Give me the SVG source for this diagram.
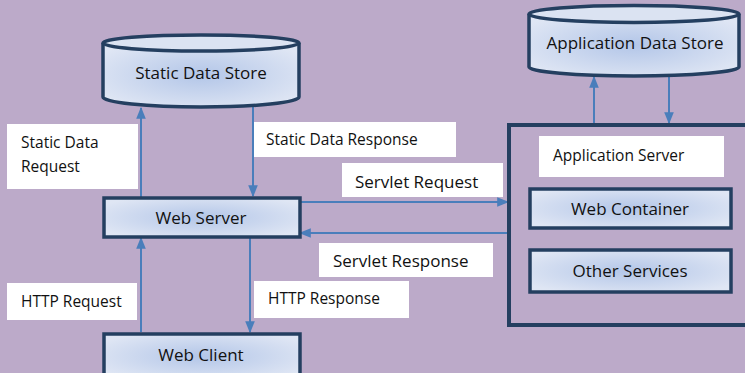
<svg xmlns="http://www.w3.org/2000/svg" width="745" height="373" viewBox="0 0 745 373">
<defs>
<radialGradient id="g" cx="50%" cy="50%" r="60%">
<stop offset="0" stop-color="#b3c6e8"/>
<stop offset="1" stop-color="#dfe6f4"/>
</radialGradient>
<marker id="a" viewBox="0 0 10 10" refX="9" refY="5" markerWidth="12" markerHeight="12" orient="auto" markerUnits="userSpaceOnUse">
<path d="M0,1 L10,5 L0,9 z" fill="#4a7ebb"/>
</marker>
</defs>
<style>
.box{fill:url(#g);stroke:#243f60;stroke-width:3.5}
.cyl{fill:url(#g);stroke:#243f60;stroke-width:3.5}
.top{fill:#dbe3f2;stroke:#243f60;stroke-width:3.5}
.lbl{fill:#ffffff}
.t{font-family:"Open Sans","Liberation Sans",sans-serif;font-size:15.5px;fill:#111}
.n{font-size:17px}
.c{text-anchor:middle}
.ln{stroke:#4a7ebb;stroke-width:2;fill:none;marker-end:url(#a)}
</style>
<rect width="745" height="373" fill="#bcaac9"/>

<g id="connectors">
<line class="ln" x1="141" y1="197" x2="141" y2="108"/>
<line class="ln" x1="253" y1="104" x2="253" y2="196"/>
<line class="ln" x1="594" y1="123" x2="594" y2="77"/>
<line class="ln" x1="669" y1="77" x2="669" y2="123"/>
<line class="ln" x1="300" y1="202" x2="508" y2="202"/>
<line class="ln" x1="508" y1="233" x2="300" y2="233"/>
<line class="ln" x1="141" y1="332" x2="141" y2="238"/>
<line class="ln" x1="250" y1="238" x2="250" y2="332"/>
</g>

<g id="static-data-store">
<path class="cyl" d="M103,43 L103,97 A98,10 0 0 0 299,97 L299,43"/>
<ellipse class="top" cx="201" cy="43" rx="98" ry="8"/>
<text class="t n c" x="201" y="79">Static Data Store</text>
</g>

<g id="application-data-store">
<path class="cyl" d="M529,14 L529,67 A105,9 0 0 0 739,67 L739,14"/>
<ellipse class="top" cx="634" cy="14" rx="105" ry="8.5"/>
<text class="t n c" x="635" y="49">Application Data Store</text>
</g>

<g id="web-server">
<rect class="box" x="104" y="198" width="196" height="39"/>
<text class="t n c" x="201" y="224">Web Server</text>
</g>

<g id="web-client">
<rect class="box" x="104" y="334" width="196" height="45"/>
<text class="t n c" x="201" y="361">Web Client</text>
</g>

<g id="application-server">
<rect x="509" y="125" width="250" height="200" fill="none" stroke="#243f60" stroke-width="4"/>
<rect class="lbl" x="539" y="136" width="185" height="41"/>
<text class="t" x="553" y="161">Application Server</text>
</g>

<g id="web-container">
<rect class="box" x="530" y="189" width="201" height="39"/>
<text class="t n c" x="630" y="215">Web Container</text>
</g>

<g id="other-services">
<rect class="box" x="530" y="250" width="201" height="42"/>
<text class="t n c" x="630" y="277">Other Services</text>
</g>

<g id="label-static-data-request">
<rect class="lbl" x="7" y="124" width="131" height="65"/>
<text class="t" x="21" y="148">Static Data</text>
<text class="t" x="21" y="172">Request</text>
</g>
<g id="label-static-data-response">
<rect class="lbl" x="254" y="122" width="202" height="35"/>
<text class="t" x="266" y="145">Static Data Response</text>
</g>
<g id="label-servlet-request">
<rect class="lbl" x="342" y="163" width="161" height="34"/>
<text class="t n" x="355" y="188">Servlet Request</text>
</g>
<g id="label-servlet-response">
<rect class="lbl" x="319" y="243" width="174" height="34"/>
<text class="t n" x="333" y="267">Servlet Response</text>
</g>
<g id="label-http-request">
<rect class="lbl" x="7" y="283" width="130" height="37"/>
<text class="t" x="21" y="307">HTTP Request</text>
</g>
<g id="label-http-response">
<rect class="lbl" x="254" y="281" width="155" height="37"/>
<text class="t" x="268" y="304">HTTP Response</text>
</g>
</svg>
